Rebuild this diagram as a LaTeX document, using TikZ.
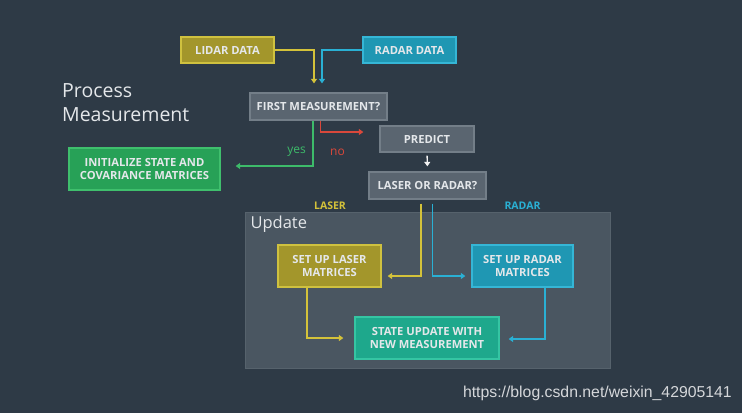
\documentclass[tikz,border=0pt]{standalone}
\usepackage{fontspec}
\setmainfont{Open Sans}
\newfontfamily\wmfont{Liberation Sans}
\usetikzlibrary{arrows.meta}
\definecolor{bg}{HTML}{2E3A46}
\definecolor{upd}{HTML}{4A5661}
\definecolor{updb}{HTML}{56626C}
\definecolor{gfill}{HTML}{5A6570}
\definecolor{gbord}{HTML}{737E88}
\definecolor{yfill}{HTML}{A3962B}
\definecolor{ybord}{HTML}{CFC13F}
\definecolor{yline}{HTML}{D4C23A}
\definecolor{tfill}{HTML}{1F97B3}
\definecolor{tbord}{HTML}{35B6D6}
\definecolor{tline}{HTML}{2AB0D4}
\definecolor{grfill}{HTML}{27A157}
\definecolor{grbord}{HTML}{3FBF6D}
\definecolor{grline}{HTML}{3DBB6A}
\definecolor{sfill}{HTML}{1EA88C}
\definecolor{sbord}{HTML}{35C5A3}
\definecolor{redl}{HTML}{D9483B}
\definecolor{txt}{HTML}{E4E7EA}
\tikzset{
  box/.style={rectangle, line width=1.3pt, text=txt, font=\bfseries\fontsize{11.2}{13.5}\selectfont, align=center, inner sep=0pt},
  graybox/.style={box, fill=gfill, draw=gbord},
  ylwbox/.style={box, fill=yfill, draw=ybord},
  tealbox/.style={box, fill=tfill, draw=tbord},
  greenbox/.style={box, fill=grfill, draw=grbord},
  statebox/.style={box, fill=sfill, draw=sbord},
  conn/.style={line width=1.6pt, -{Triangle[width=6pt,length=4.5pt]}},
  lbl/.style={font=\fontsize{12}{13}\selectfont},
  sidelbl/.style={font=\bfseries\fontsize{10.5}{12}\selectfont},
}
\begin{document}
\begin{tikzpicture}[x=1pt,y=-1pt]
\fill[bg] (0,0) rectangle (742,413);
\useasboundingbox (0,0) rectangle (742,413);
% update region
\node[rectangle, fill=upd, draw=updb, line width=0.8pt, minimum width=365pt, minimum height=156pt, inner sep=0pt] (updreg) at (427.5,290) {};
\node[anchor=west, text=txt, font=\fontsize{16.5}{18}\selectfont] (updlbl) at (247,224) {Update};
% title
\node[anchor=north west, text=txt, font=\fontsize{19.5}{24}\selectfont, align=left, inner sep=0pt] (title) at (62,83) {Process\\Measurement};
% boxes
\node[ylwbox, minimum width=93pt, minimum height=26pt] (lidar) at (227.5,50) {LIDAR DATA};
\node[tealbox, minimum width=93pt, minimum height=26pt] (radar) at (409.5,50) {RADAR DATA};
\node[graybox, minimum width=137pt, minimum height=27pt] (first) at (318.5,106.5) {FIRST MEASUREMENT?};
\node[graybox, minimum width=94pt, minimum height=26pt] (predict) at (427,139) {PREDICT};
\node[graybox, minimum width=117pt, minimum height=27pt] (lor) at (427.5,185.5) {LASER OR RADAR?};
\node[greenbox, minimum width=151pt, minimum height=42pt] (init) at (144.5,169) {INITIALIZE STATE AND\\COVARIANCE MATRICES};
\node[ylwbox, minimum width=103pt, minimum height=42pt] (laser) at (329.5,266) {SET UP LASER\\MATRICES};
\node[tealbox, minimum width=101pt, minimum height=42pt] (radarm) at (522.5,266) {SET UP RADAR\\MATRICES};
\node[statebox, minimum width=144pt, minimum height=42pt] (state) at (427,338) {STATE UPDATE WITH\\NEW MEASUREMENT};
% labels
\node[lbl, text=grline] (yes) at (296.5,152) {yes};
\node[lbl, text=redl] (no) at (337.5,152) {no};
\node[sidelbl, text=yline] (laserlbl) at (330,206) {LASER};
\node[sidelbl, text=tline] (radarlbl) at (522.5,206) {RADAR};
% connectors
\draw[conn, yline, shorten >=9pt] (lidar.east) -| ([xshift=-4.5pt]first.north);
\draw[conn, tline, shorten >=9pt] (radar.west) -| ([xshift=3.5pt]first.north);
\draw[conn, grline, shorten >=15pt] ([xshift=-5.5pt]first.south) |- ([yshift=3pt]init.east);
\draw[conn, redl, shorten >=16pt] ([xshift=2pt]first.south) |- ([yshift=7pt]predict.west);
\draw[conn, white!90!gray, line width=1.3pt, shorten <=3pt, shorten >=5pt] (predict.south) -- (lor.north);
\draw[conn, yline, shorten <=4pt, shorten >=6pt] ([xshift=-6.5pt]lor.south) |- ([yshift=-10pt]laser.east);
\draw[conn, tline, shorten <=4pt, shorten >=6pt] ([xshift=5pt]lor.south) |- ([yshift=-10pt]radarm.west);
\draw[conn, yline, shorten >=11pt] ([xshift=-22.5pt]laser.south) |- (state.west);
\draw[conn, tline, shorten >=9pt] ([xshift=22.5pt]radarm.south) |- ([yshift=-1pt]state.east);
% watermark
\node[anchor=east, text=white!80!bg, font=\wmfont\fontsize{15.8}{17}\selectfont, inner sep=0pt] (wm) at (732,393) {https://blog.csdn.net/weixin\_42905141};
\end{tikzpicture}
\end{document}
